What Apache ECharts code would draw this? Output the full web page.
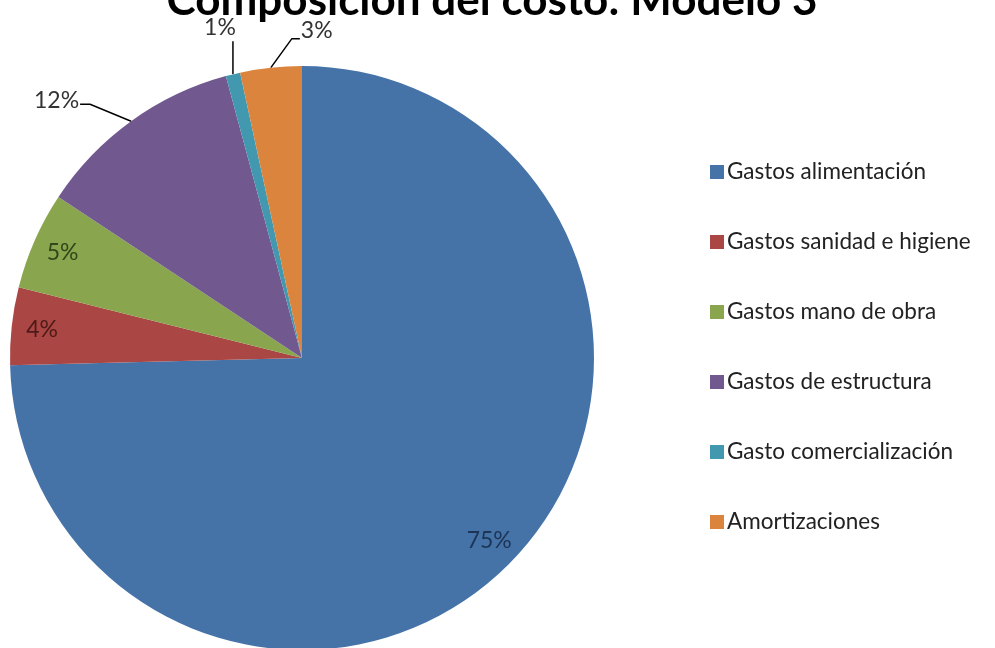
<!DOCTYPE html>
<html>
<head>
<meta charset="utf-8">
<script src="https://cdn.jsdelivr.net/npm/echarts@6/dist/echarts.min.js"></script>
<style>
html,body{margin:0;padding:0;background:#fff;}
#chart{width:995px;height:648px;}
</style>
</head>
<body>
<div id="chart"></div>
<script>
const titleText = 'Composición del costo: Modelo 3';
const categories = ['Gastos alimentación','Gastos sanidad e higiene','Gastos mano de obra','Gastos de estructura','Gasto comercialización','Amortizaciones'];
const values = [74.6, 4.3, 5.4, 11.5, 0.8, 3.4];
const colors = ['#4573A8','#AA4643','#89A54E','#71588F','#4198AF','#DB843D'];
const insideLabelColors = ['#1c3556','#4e1a18','#33461a'];
const insideIdx = [0,1,2];

const chart = echarts.init(document.getElementById('chart'));
const fmt = p => Math.round(p.percent) + '%';

const mainData = categories.map((n,i)=>({
  name:n, value:values[i], itemStyle:{color:colors[i]},
  label:{show: insideIdx.indexOf(i) < 0},
  labelLine:{show: insideIdx.indexOf(i) < 0}
}));
const ghostData = categories.map((n,i)=>({
  name:n, value:values[i],
  label:{show: insideIdx.indexOf(i) >= 0, color: insideLabelColors[i] || '#333'}
}));

chart.setOption({
  animation:false,
  backgroundColor:'#fff',
  title:{
    text:titleText, left:487, textAlign:'center', top:-26,
    textStyle:{fontFamily:'Lato', fontWeight:'bold', fontSize:44, color:'#000'}
  },
  legend:{
    orient:'vertical', left:705, top:155,
    data:categories,
    icon:'rect', itemWidth:14, itemHeight:14, itemGap:46,
    textStyle:{fontFamily:'Lato', fontSize:22.5, color:'#222', lineHeight:24, padding:[0,0,0,-2]}
  },
  series:[
    {
      type:'pie', center:[302,358], radius:292, startAngle:90, clockwise:true,
      avoidLabelOverlap:false, silent:true,
      data:mainData,
      label:{position:'outside', formatter:fmt, fontFamily:'Lato', fontSize:23, color:'#333'},
      labelLine:{length:15, length2:10, lineStyle:{color:'#000', width:1.5}},
      labelLayout:function(p){
        const pts = p.labelLinePoints;
        if(!pts) return {};
        const e = pts[0];
        if(p.dataIndex===3){
          const a=[e[0]-41,e[1]-17], b=[a[0]-10,a[1]];
          return {x:b[0]-1, y:b[1]-4, align:'right', verticalAlign:'middle', labelLinePoints:[e,a,b]};
        }
        if(p.dataIndex===4){
          const a=[e[0],e[1]-33], b=[a[0],a[1]];
          return {x:a[0]-13, y:a[1]-14, align:'center', verticalAlign:'middle', labelLinePoints:[e,a,b]};
        }
        if(p.dataIndex===5){
          const a=[e[0]+21,e[1]-29], b=[a[0]+8,a[1]];
          return {x:b[0]+1, y:b[1]-8, align:'left', verticalAlign:'middle', labelLinePoints:[e,a,b]};
        }
        return {};
      }
    },
    {
      type:'pie', center:[302,358], radius:[225,292], startAngle:90, clockwise:true,
      avoidLabelOverlap:false, silent:true, z:5,
      data:ghostData,
      itemStyle:{color:'rgba(0,0,0,0)'},
      label:{position:'inside', formatter:fmt, fontFamily:'Lato', fontSize:23},
      labelLine:{show:false}
    }
  ]
});
</script>
</body>
</html>
